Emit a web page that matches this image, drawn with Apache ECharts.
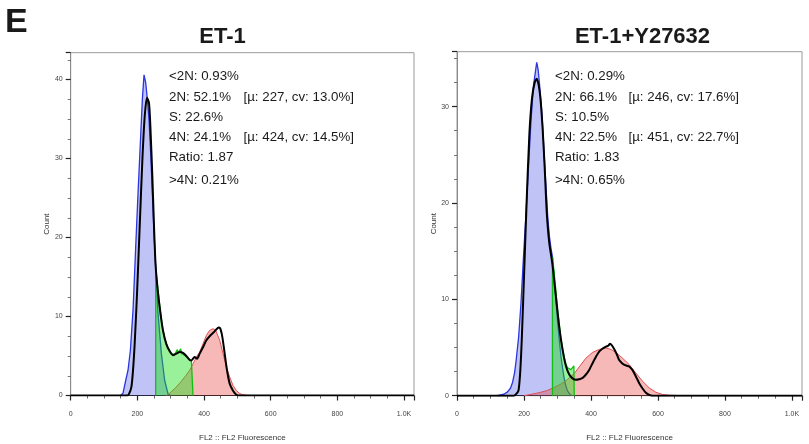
<!DOCTYPE html>
<html>
<head>
<meta charset="utf-8">
<script src="https://cdn.jsdelivr.net/npm/echarts@6/dist/echarts.min.js"></script>
<style>html,body{margin:0;padding:0;background:#fff;}#c{width:809px;height:444px;}</style>
</head>
<body>
<div id="c"></div>
<script>
// ---------- DATA ----------
const panelTitles = ['ET-1', 'ET-1+Y27632'];
const xTickValues = [0, 200, 400, 600, 800, 1000];
const xTickLabels = ['0', '200', '400', '600', '800', '1.0K'];
const xAxisName = 'FL2 :: FL2 Fluorescence';
const yAxisName = 'Count';

const leftStats = ['<2N: 0.93%', '2N: 52.1%', 'S: 22.6%', '4N: 24.1%', 'Ratio: 1.87', '>4N: 0.21%'];
const leftStatsExtra = ['', '[\u00b5: 227, cv: 13.0%]', '', '[\u00b5: 424, cv: 14.5%]', '', ''];
const rightStats = ['<2N: 0.29%', '2N: 66.1%', 'S: 10.5%', '4N: 22.5%', 'Ratio: 1.83', '>4N: 0.65%'];
const rightStatsExtra = ['', '[\u00b5: 246, cv: 17.6%]', '', '[\u00b5: 451, cv: 22.7%]', '', ''];

// Left panel (ET-1)
const leftBlue = [[150,0],[157,0.3],[165,1.9],[172,3.2],[179,5.7],[187,10.8],[195,18.8],[202,25.6],[209,32],[215,37.5],[220,40.6],[225,39.6],[230,37.5],[235,34.9],[240,30.7],[245,25.6],[250,20.5],[255,16.3],[262,10.4],[272,5.3],[282,1.9],[292,0.2],[300,0]];
const leftGreen = [[255,0],[255,16.3],[259,14.5],[262,13.3],[266,11.8],[269,10.8],[273,9.4],[277,8.25],[282,7.3],[287,6.56],[292,6.0],[297,5.7],[302,5.3],[307,5.08],[312,5.2],[317,5.3],[320,5.8],[322,5.4],[327,5.5],[330,5.9],[333,5.3],[337,5.4],[342,5.1],[347,4.95],[352,4.7],[357,4.5],[362,4.4],[367,4.35],[367,0]];
const leftRed = [[287,0],[300,0.4],[315,1.0],[330,1.7],[345,2.5],[357,3.2],[367,4.0],[377,4.87],[387,5.5],[397,6.56],[407,7.6],[417,8.25],[427,8.46],[435,8.25],[447,7.0],[457,5.3],[467,3.6],[477,2.35],[487,1.27],[497,0.63],[507,0.25],[517,0.08],[530,0.02],[545,0]];
const leftBlack = [[0,0],[170,0],[175,0.2],[182,1.05],[187,3.2],[192,6.6],[199,12.9],[207,21.4],[215,29.8],[222,35.3],[229,37.7],[235,37.0],[239,34.1],[245,27.7],[250,21.4],[255,16.3],[262,13.0],[269,10.5],[277,8.2],[287,6.5],[297,5.6],[307,5.1],[317,5.3],[327,5.5],[337,5.4],[347,5.0],[357,4.5],[362,4.44],[372,4.87],[379,4.65],[387,5.3],[397,6.1],[407,7.0],[419,7.6],[429,8.0],[439,8.46],[445,8.6],[449,8.46],[455,7.4],[462,5.3],[469,3.2],[477,1.5],[487,0.6],[497,0.1],[507,0],[1030,0]];

// Right panel (ET-1+Y27632)
const rightBlue = [[120,0],[140,0.15],[151,0.4],[160,0.8],[166,1.4],[172,2.4],[176,3.5],[180,4.8],[184,6.1],[191,9.6],[198,14.1],[206,18.9],[214,24.1],[221,28.6],[228,32.1],[234,33.6],[238,34.6],[242,33.9],[246,32.5],[251,30.5],[256,27.8],[261,24.5],[266,21.5],[271,18.5],[276,16.5],[281,15.2],[285,14.4],[290,12.3],[295,10.0],[300,7.8],[305,5.9],[310,4.2],[315,2.9],[320,1.8],[325,1.0],[330,0.5],[338,0.1],[345,0]];
const rightGreen = [[285,0],[285,14.4],[290,12.8],[295,11.0],[300,9.0],[305,7.5],[310,6.0],[315,5.0],[320,4.0],[325,3.3],[330,2.9],[335,2.7],[340,2.7],[345,2.8],[349,3.1],[350,3.0],[350,0]];
const rightRed = [[200,0],[215,0.1],[230,0.2],[250,0.35],[270,0.55],[290,0.85],[310,1.2],[330,1.7],[350,2.3],[365,3.0],[385,3.9],[405,4.5],[425,4.8],[445,4.95],[460,4.8],[475,4.45],[494,3.9],[515,3.2],[534,2.35],[554,1.5],[574,0.8],[594,0.35],[614,0.12],[634,0.05],[660,0.02],[680,0]];
const rightBlack = [[0,0],[170,0],[180,0.3],[184,0.6],[189,2.6],[194,6.4],[201,13.3],[208,20.2],[216,27.1],[224,30.9],[232,32.5],[238,32.9],[244,32.2],[250,30.5],[256,27.5],[262,23.5],[268,19.0],[275,16.0],[285,13.6],[295,10.4],[305,7.2],[315,4.8],[325,3.1],[335,2.2],[345,1.8],[355,1.65],[365,1.7],[375,1.85],[385,2.2],[395,2.7],[405,3.4],[415,4.05],[425,4.6],[435,4.9],[445,5.1],[452,5.2],[457,5.4],[463,5.2],[470,4.8],[477,4.3],[484,3.7],[492,3.4],[500,3.2],[508,3.1],[515,3.0],[524,2.65],[534,2.0],[544,1.3],[554,0.75],[564,0.3],[574,0.08],[584,0],[1030,0]];

const yMax = [43.4, 35.7];
const xMax = 1030;

// ---------- CHART ----------
const chart = echarts.init(document.getElementById('c'), null, {renderer: 'canvas'});
const FONT = '"Liberation Sans", Arial, Helvetica, sans-serif';

const grids = [
  {left: 70.7, top: 52.7, width: 343.3, height: 342.8, show: true, borderColor: '#9a9a9a', borderWidth: 1, containLabel: false, outerBoundsMode: 'none'},
  {left: 457, top: 51.7, width: 345, height: 344, show: true, borderColor: '#9a9a9a', borderWidth: 1, containLabel: false, outerBoundsMode: 'none'}
];

function xAxisFor(i) {
  return {
    gridIndex: i, type: 'value', min: 0, max: xMax, interval: 200,
    name: xAxisName, nameLocation: 'middle', nameGap: 38,
    nameTextStyle: {fontSize: 8, color: '#333', fontFamily: FONT},
    axisLine: {show: true, lineStyle: {color: '#222', width: 1}},
    axisTick: {show: true, length: 5, lineStyle: {color: '#222', width: 1.2}},
    minorTick: {show: true, splitNumber: 4, length: 3, lineStyle: {color: '#444', width: 0.8}},
    splitLine: {show: false},
    axisLabel: {
      fontSize: 7, color: '#444', margin: 15, fontFamily: FONT,
      formatter: v => { const k = xTickValues.indexOf(v); return k >= 0 ? xTickLabels[k] : ''; }
    }
  };
}
function yAxisFor(i) {
  return {
    gridIndex: i, type: 'value', min: 0, max: yMax[i], interval: 10,
    name: yAxisName, nameLocation: 'middle', nameGap: 19,
    nameTextStyle: {fontSize: 8, color: '#333', fontFamily: FONT},
    axisLine: {show: true, lineStyle: {color: '#8a8a8a', width: 1}},
    axisTick: {show: true, length: 5, lineStyle: {color: '#222', width: 1.2}},
    minorTick: {show: true, splitNumber: 4, length: 3, lineStyle: {color: '#555', width: 0.8}},
    splitLine: {show: false},
    axisLabel: {
      fontSize: 7, color: '#444', margin: 8, fontFamily: FONT,
      formatter: v => (v % 10 === 0 ? String(v) : '')
    }
  };
}

function area(data, idx, fill, stroke, w, z) {
  return {
    type: 'line', xAxisIndex: idx, yAxisIndex: idx, data: data, showSymbol: false, symbol: 'none',
    lineStyle: {color: stroke, width: w}, areaStyle: {color: fill, origin: 'start'}, z: z, silent: true
  };
}
function blackLine(data, idx) {
  return {
    type: 'line', xAxisIndex: idx, yAxisIndex: idx, data: data, showSymbol: false, symbol: 'none',
    smooth: 0.25, lineStyle: {color: '#000', width: 2}, z: 10, silent: true
  };
}

const BLUE_FILL = 'rgba(62,72,226,0.47)', BLUE_LINE = '#2a35e0';
const GREEN_FILL = 'rgba(20,222,20,0.62)', GREEN_LINE = '#10c010';
const RED_FILL = 'rgba(232,55,55,0.5)', RED_LINE = '#e05050';

const series = [
  area(leftBlue, 0, BLUE_FILL, BLUE_LINE, 1.3, 2),
  area(leftRed, 0, RED_FILL, RED_LINE, 1, 3),
  area(leftGreen, 0, GREEN_FILL, GREEN_LINE, 1.3, 4),
  blackLine(leftBlack, 0),
  area(rightBlue, 1, BLUE_FILL, BLUE_LINE, 1.3, 2),
  area(rightRed, 1, RED_FILL, RED_LINE, 1, 3),
  area(rightGreen, 1, GREEN_FILL, GREEN_LINE, 1.3, 4),
  blackLine(rightBlack, 1)
];

const lineY = [76.7, 97.7, 117.7, 137.7, 157.7, 180];
const graphics = [];
function txt(x, y, s, font, align) {
  graphics.push({type: 'text', x: x, y: y, z: 100, silent: true,
    style: {text: s, font: font, fill: '#1a1a1a', align: align || 'left', textAlign: align || 'left',
            verticalAlign: 'middle', textVerticalAlign: 'middle'}});
}
txt(5, 23, 'E', 'bold 34px ' + FONT);
txt(222.5, 37, panelTitles[0], 'bold 22px ' + FONT, 'center');
txt(642.5, 37, panelTitles[1], 'bold 22px ' + FONT, 'center');
const statFont = '13.3px ' + FONT;
for (let i = 0; i < leftStats.length; i++) {
  txt(169, lineY[i], leftStats[i], statFont);
  if (leftStatsExtra[i]) txt(243.5, lineY[i], leftStatsExtra[i], statFont);
  txt(555, lineY[i], rightStats[i], statFont);
  if (rightStatsExtra[i]) txt(628.5, lineY[i], rightStatsExtra[i], statFont);
}

chart.setOption({
  animation: false,
  backgroundColor: '#fff',
  grid: grids,
  xAxis: [xAxisFor(0), xAxisFor(1)],
  yAxis: [yAxisFor(0), yAxisFor(1)],
  series: series,
  graphic: graphics
});
</script>
</body>
</html>
